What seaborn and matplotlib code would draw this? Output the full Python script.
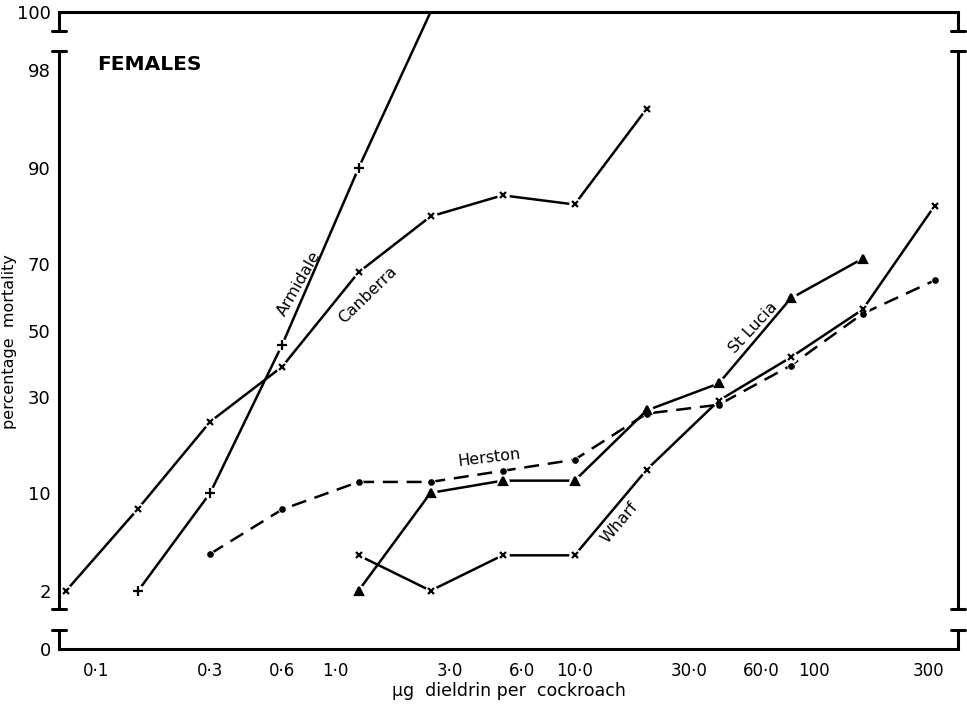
"""Probit mortality vs log dose, females."""

import statistics

import matplotlib
matplotlib.use("Agg")
import matplotlib.pyplot as plt
import numpy as np
import seaborn as sns

# dose (ug dieldrin per cockroach) and percentage mortality
armidale_dose = [0.15, 0.3, 0.6, 1.25, 2.5]
armidale_mort = [2, 10, 45.6, 90, 100]

canberra_dose = [0.075, 0.15, 0.3, 0.6, 1.25, 2.5, 5, 10, 20]
canberra_mort = [2, 8, 23.6, 38.8, 67.7, 81.6, 85.7, 84, 96]

herston_dose = [0.3, 0.6, 1.25, 2.5, 5, 10, 20, 40, 80, 160, 320]
herston_mort = [3.9, 7.9, 11.6, 11.6, 13.4, 15.4, 25.6, 27.9, 39.1, 55.3, 65.4]

st_lucia_dose = [1.25, 2.5, 5, 10, 20, 40, 80, 160]
st_lucia_mort = [2, 10, 11.8, 11.8, 26.4, 33.8, 60, 71.5]

wharf_dose = [1.25, 2.5, 5, 10, 20, 40, 80, 160, 320]
wharf_mort = [3.8, 2, 3.8, 3.8, 13.6, 29, 41.6, 56.6, 83.8]

x_ticks = [0.1, 0.3, 0.6, 1.0, 3.0, 6.0, 10.0, 30.0, 60.0, 100, 300]
x_tick_labels = ["0·1", "0·3", "0·6", "1·0", "3·0", "6·0", "10·0", "30·0", "60·0", "100", "300"]
y_ticks = [0, 2, 10, 30, 50, 70, 90, 98, 100]

# probit scale between 2 and 98 %, with 0 and 100 put just beyond the breaks
_ND = statistics.NormalDist()
_Z98 = _ND.inv_cdf(0.98)
_GAP = 0.46
_inv = np.vectorize(_ND.inv_cdf, otypes=[float])
_cdf = np.vectorize(_ND.cdf, otypes=[float])


def probit_fwd(p):
    p = np.asarray(p, dtype=float)
    z = _inv(np.clip(p, 2, 98) / 100)
    z = np.where(p < 2, -_Z98 - (2 - p) / 2 * _GAP, z)
    z = np.where(p > 98, _Z98 + (p - 98) / 2 * _GAP, z)
    return z


def probit_inv(z):
    z = np.asarray(z, dtype=float)
    p = _cdf(np.clip(z, -_Z98, _Z98)) * 100
    p = np.where(z < -_Z98, 2 - (-_Z98 - z) / _GAP * 2, p)
    p = np.where(z > _Z98, 98 + (z - _Z98) / _GAP * 2, p)
    return p


sns.set_style("white")
plt.rcParams["font.family"] = ["DejaVu Sans"]
for key in ["text.color", "axes.labelcolor", "xtick.color", "ytick.color"]:
    plt.rcParams[key] = "black"

fig = plt.figure(figsize=(9.67, 7.09), dpi=100)
ax = fig.add_axes([59 / 967, 60 / 709, 899 / 967, 637 / 709])

LW = 1.8
series = [
    (armidale_dose, armidale_mort, "-", "+", 6.5),
    (canberra_dose, canberra_mort, "-", "x", 4.5),
    (herston_dose, herston_mort, (0, (6, 3.5)), "o", 3.2),
    (st_lucia_dose, st_lucia_mort, "-", "^", 5.5),
    (wharf_dose, wharf_mort, "-", "x", 4.5),
]

for dose, mort, ls, mk, ms in series:
    sns.lineplot(x=dose, y=mort, ax=ax, color="black", lw=LW, linestyle=ls,
                 estimator=None, sort=False, zorder=2)
    md = [d for d, m in zip(dose, mort) if m < 100]
    mm = [m for m in mort if m < 100]
    ax.plot(md, mm, ls="none", marker="o", ms=9 if mk != "o" else 6,
            mfc="white", mec="none", zorder=3)
    ax.plot(md, mm, ls="none", marker=mk, ms=ms, mew=1.6, color="black", zorder=4)

ax.set_xscale("log")
ax.set_yscale("function", functions=(probit_fwd, probit_inv))
ax.set_xlim(0.070, 400)
ax.set_ylim(0, 100)

ax.set_xticks(x_ticks, x_tick_labels)
ax.xaxis.set_minor_locator(matplotlib.ticker.NullLocator())
ax.set_yticks(y_ticks, [str(t) for t in y_ticks])
ax.yaxis.set_minor_locator(matplotlib.ticker.NullLocator())
ax.tick_params(axis="x", direction="in", length=8, width=1.6, labelsize=12, pad=9)
ax.tick_params(axis="y", direction="in", length=7, width=1.6, labelsize=13, pad=6)

for side in ["left", "right"]:
    ax.spines[side].set_visible(False)
for side in ["top", "bottom"]:
    ax.spines[side].set_linewidth(2.2)
    ax.spines[side].set_color("black")

# broken vertical axes with end caps
ytr = ax.get_yaxis_transform()
segments = [(0, 0.66), (1.38, 98.65), (99.34, 100)]
cap = 0.0078
for xa in [0, 1]:
    for lo, hi in segments:
        ax.plot([xa, xa], [lo, hi], color="black", lw=2.2, transform=ytr,
                clip_on=False, solid_capstyle="butt", zorder=5)
    for yc in [0.66, 1.38, 98.65, 99.34]:
        ax.plot([xa - cap, xa + cap], [yc, yc], color="black", lw=2.2,
                transform=ytr, clip_on=False, zorder=5)

ax.set_xlabel("µg  dieldrin per  cockroach", fontsize=12.5)
ax.xaxis.set_label_coords(0.5, -0.052)
ax.set_ylabel("percentage  mortality", fontsize=11.5)
ax.yaxis.set_label_coords(-0.047, 0.482)

ax.text(0.042, 0.918, "FEMALES", transform=ax.transAxes, fontsize=14.5,
        fontweight="bold", ha="left", va="center")
labels = [
    (0.267, 0.573, "Armidale", 60),
    (0.344, 0.556, "Canberra", 44),
    (0.479, 0.300, "Herston", 7),
    (0.772, 0.504, "St Lucia", 47),
    (0.623, 0.199, "Wharf", 50),
]
for xa, ya, txt, rot in labels:
    ax.text(xa, ya, txt, transform=ax.transAxes, fontsize=11.5, rotation=rot,
            ha="center", va="center", rotation_mode="anchor")

fig.savefig("out.png", dpi=100)
plt.close(fig)
